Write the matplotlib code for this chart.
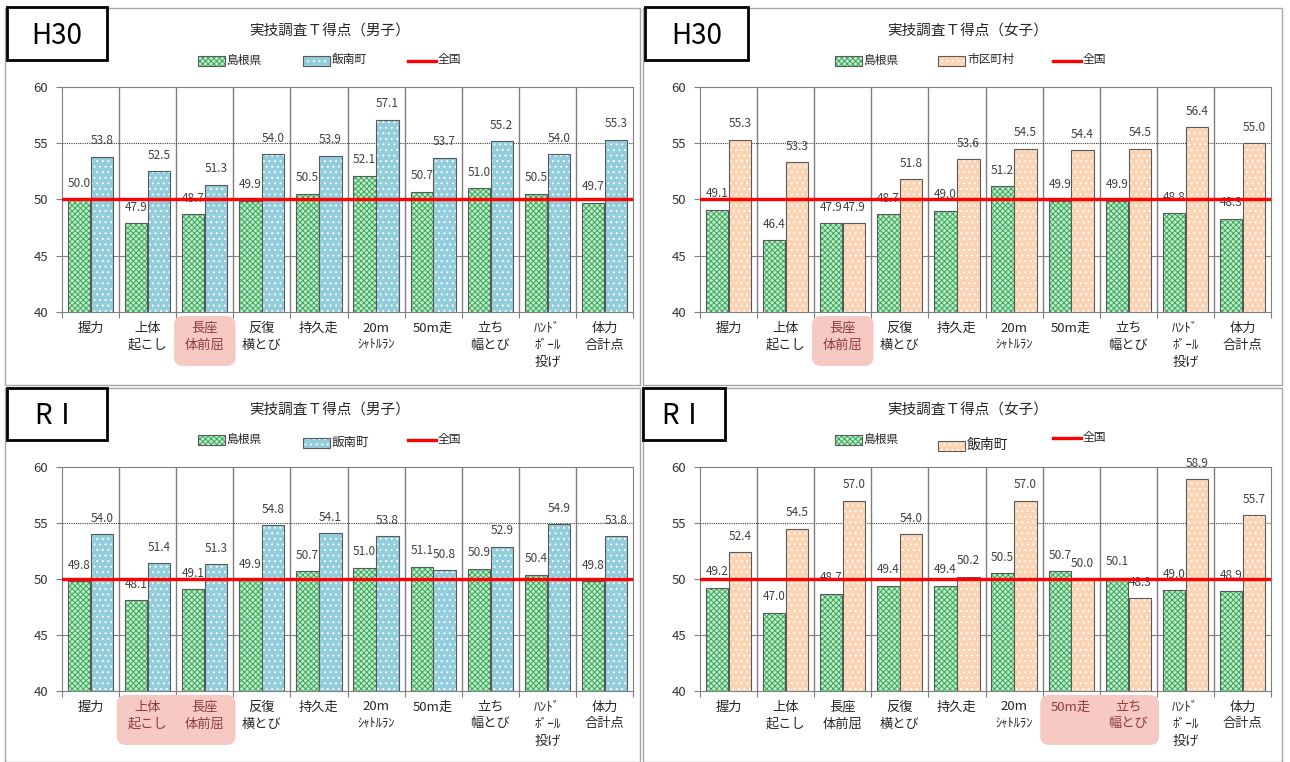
import matplotlib

matplotlib.use("Agg")
import matplotlib.pyplot as plt
import numpy as np
from matplotlib.lines import Line2D
from matplotlib.patches import FancyBboxPatch, Rectangle
from matplotlib.transforms import IdentityTransform

plt.rcParams["font.family"] = ["Noto Sans CJK JP", "DejaVu Sans"]
plt.rcParams["hatch.linewidth"] = 0.7

W, H = 1290, 762

# --- data -------------------------------------------------------------
categories = ["握力", "上体\n起こし", "長座\n体前屈", "反復\n横とび", "持久走",
              "20m\nｼｬﾄﾙﾗﾝ", "50m走", "立ち\n幅とび", "ﾊﾝﾄﾞ\nﾎﾞｰﾙ\n投げ", "体力\n合計点"]
small_lines = {"ｼｬﾄﾙﾗﾝ"}

h30_boys_pref = [50.0, 47.9, 48.7, 49.9, 50.5, 52.1, 50.7, 51.0, 50.5, 49.7]
h30_boys_town = [53.8, 52.5, 51.3, 54.0, 53.9, 57.1, 53.7, 55.2, 54.0, 55.3]
h30_girls_pref = [49.1, 46.4, 47.9, 48.7, 49.0, 51.2, 49.9, 49.9, 48.8, 48.3]
h30_girls_town = [55.3, 53.3, 47.9, 51.8, 53.6, 54.5, 54.4, 54.5, 56.4, 55.0]
r1_boys_pref = [49.8, 48.1, 49.1, 49.9, 50.7, 51.0, 51.1, 50.9, 50.4, 49.8]
r1_boys_town = [54.0, 51.4, 51.3, 54.8, 54.1, 53.8, 50.8, 52.9, 54.9, 53.8]
r1_girls_pref = [49.2, 47.0, 48.7, 49.4, 49.4, 50.5, 50.7, 50.1, 49.0, 48.9]
r1_girls_town = [52.4, 54.5, 57.0, 54.0, 50.2, 57.0, 50.0, 48.3, 58.9, 55.7]
national = 50.0

# --- style ------------------------------------------------------------
GREEN_FACE, GREEN_HATCH, GREEN_PAT = "#c2ecca", "#36a85a", "xxxxxx"
BLUE_FACE = "#92cddc"
ORANGE_FACE = "#fbd4b4"
EDGE = "#595959"
GRID = "#7f7f7f"
TEXT = "#404040"
PINK = "#f6c9c2"
HL_TEXT = "#8c3c3c"

panels = [
    dict(ax=(62, 87, 633, 312), frame=(5, 8, 640, 385), tag=(7, 7, 107, 60), tag_text="H30",
         title=(330, 31, "実技調査Ｔ得点（男子）"), pref=h30_boys_pref, town=h30_boys_town,
         town_name="飯南町", town_face=BLUE_FACE, highlight=[2],
         leg=[(198, 61), (303, 61, 8.5), (408, 61)]),
    dict(ax=(700, 87, 1271, 312), frame=(643, 8, 1282, 385), tag=(645, 7, 748, 60), tag_text="H30",
         title=(968, 31, "実技調査Ｔ得点（女子）"), pref=h30_girls_pref, town=h30_girls_town,
         town_name="市区町村", town_face=ORANGE_FACE, highlight=[2],
         leg=[(835, 61), (938, 61, 8.5), (1053, 61)]),
    dict(ax=(62, 467, 633, 691), frame=(5, 388, 640, 762), tag=(7, 388, 107, 440), tag_text="RⅠ",
         title=(330, 410, "実技調査Ｔ得点（男子）"), pref=r1_boys_pref, town=r1_boys_town,
         town_name="飯南町", town_face=BLUE_FACE, highlight=[1, 2],
         leg=[(198, 440), (303, 443, 9), (408, 440)]),
    dict(ax=(700, 467, 1271, 691), frame=(643, 388, 1282, 762), tag=(643, 388, 725, 440), tag_text="RⅠ",
         title=(968, 410, "実技調査Ｔ得点（女子）"), pref=r1_girls_pref, town=r1_girls_town,
         town_name="飯南町", town_face=ORANGE_FACE, highlight=[6, 7],
         leg=[(835, 440), (938, 446, 10), (1053, 438)]),
]

fig = plt.figure(figsize=(W / 100, H / 100), dpi=100)
PX = IdentityTransform()


def px(x, y):
    return x, H - y


def ftext(x, y, s, **kw):
    fig.text(x / W, 1 - y / H, s, **kw)


def hatched_rect(x, y, w, h, face, hatch_color, hatch):
    fig.add_artist(Rectangle((x, y), w, h, facecolor=face, edgecolor=hatch_color, hatch=hatch,
                             linewidth=0, transform=PX))
    fig.add_artist(Rectangle((x, y), w, h, fill=False, edgecolor=EDGE, linewidth=0.8,
                             transform=PX))


for p in panels:
    x0, y0, x1, y1 = p["ax"]
    # panel frame
    fx0, fy0, fx1, fy1 = p["frame"]
    fig.add_artist(Rectangle(px(fx0, fy1), fx1 - fx0, fy1 - fy0, fill=False,
                             edgecolor="#a6a6a6", linewidth=1.0, transform=PX))

    ax = fig.add_axes([x0 / W, 1 - y1 / H, (x1 - x0) / W, (y1 - y0) / H])
    n = len(categories)
    x = np.arange(n)
    ax.set_xlim(-0.5, n - 0.5)
    ax.set_ylim(40, 60)

    # grid
    for b in np.arange(0.5, n - 0.5, 1.0):
        ax.axvline(b, color=GRID, linewidth=1.0, zorder=0)
    ax.axhline(45, color=GRID, linewidth=0.8, zorder=0)
    ax.axhline(55, color="#404040", linewidth=0.8, linestyle=(0, (1, 1)), zorder=0)

    w = 0.39
    ax.bar(x - 0.2, p["pref"], w, color=GREEN_FACE, edgecolor=GREEN_HATCH, hatch=GREEN_PAT,
           linewidth=0, zorder=2)
    ax.bar(x - 0.2, p["pref"], w, fill=False, edgecolor=EDGE, linewidth=0.8, zorder=2)
    ax.bar(x + 0.2, p["town"], w, color=p["town_face"], edgecolor="white", hatch="...",
           linewidth=0, zorder=2)
    ax.bar(x + 0.2, p["town"], w, fill=False, edgecolor=EDGE, linewidth=0.8, zorder=2)

    for xi, v in zip(x - 0.2, p["pref"]):
        ax.annotate(f"{v:.1f}", (xi, v), xytext=(0, 11.5), textcoords="offset points",
                    ha="center", va="center", fontsize=8.5, color=TEXT, zorder=4)
    for xi, v in zip(x + 0.2, p["town"]):
        ax.annotate(f"{v:.1f}", (xi, v), xytext=(0, 11.5), textcoords="offset points",
                    ha="center", va="center", fontsize=8.5, color=TEXT, zorder=4)

    ax.axhline(national, color="#ff0000", linewidth=2.4, zorder=5)

    for s in ax.spines.values():
        s.set_color(GRID)
        s.set_linewidth(0.8)
    ax.set_yticks([40, 45, 50, 55, 60])
    ax.set_yticklabels(["40", "45", "50", "55", "60"], fontsize=9.5, color="#333333")
    ax.set_xticks(np.arange(-0.5, n, 1.0))
    ax.set_xticklabels([])
    ax.tick_params(axis="both", direction="out", length=4, color=GRID, width=0.8, pad=6)

    # category labels (and highlight boxes)
    cw = (x1 - x0) / n
    hl = p["highlight"]
    bx0 = x0 + (min(hl) + 0.5) * cw - 0.54 * cw
    bx1 = x0 + (max(hl) + 0.5) * cw + 0.54 * cw
    fig.add_artist(FancyBboxPatch(px(bx0, y1 + 54), bx1 - bx0, 50,
                                  boxstyle="round,pad=0,rounding_size=9",
                                  facecolor=PINK, edgecolor="none", transform=PX, zorder=1))
    for i, cat in enumerate(categories):
        cx = x0 + (i + 0.5) * cw
        col = HL_TEXT if i in hl else "#262626"
        for k, line in enumerate(cat.split("\n")):
            fs = 9 if line in small_lines else 9.5
            ftext(cx, y1 + 16 + 17 * k, line, ha="center", va="center", fontsize=fs, color=col)

    # title
    tx, ty, tt = p["title"]
    ftext(tx, ty, tt, ha="center", va="center", fontsize=10.5, color="#262626")

    # legend
    (gx, gy), (ox, oy, ofs), (rx, ry) = p["leg"]
    hatched_rect(*px(gx, gy + 5), 27, 10, GREEN_FACE, GREEN_HATCH, GREEN_PAT)
    ftext(gx + 29, gy - 1, "島根県", ha="left", va="center", fontsize=8.5, color="#262626")
    hatched_rect(*px(ox, oy + 5), 27, 10, p["town_face"], "white", "...")
    ftext(ox + 29, oy - 1, p["town_name"], ha="left", va="center", fontsize=ofs, color="#262626")
    fig.add_artist(Line2D([rx, rx + 28], [H - ry, H - ry], color="#ff0000", linewidth=2.4,
                          transform=PX))
    ftext(rx + 30, ry - 1, "全国", ha="left", va="center", fontsize=8.5, color="#262626")

    # era tag box
    bx, by, bx2, by2 = p["tag"]
    fig.add_artist(Rectangle(px(bx, by2), bx2 - bx, by2 - by, facecolor="white",
                             edgecolor="black", linewidth=2.0, transform=PX, zorder=3))
    ftext((bx + bx2) / 2, (by + by2) / 2 + 2, p["tag_text"], ha="center", va="center",
          fontsize=20, color="black", zorder=4)

fig.savefig("out.png", dpi=100, facecolor="white")
